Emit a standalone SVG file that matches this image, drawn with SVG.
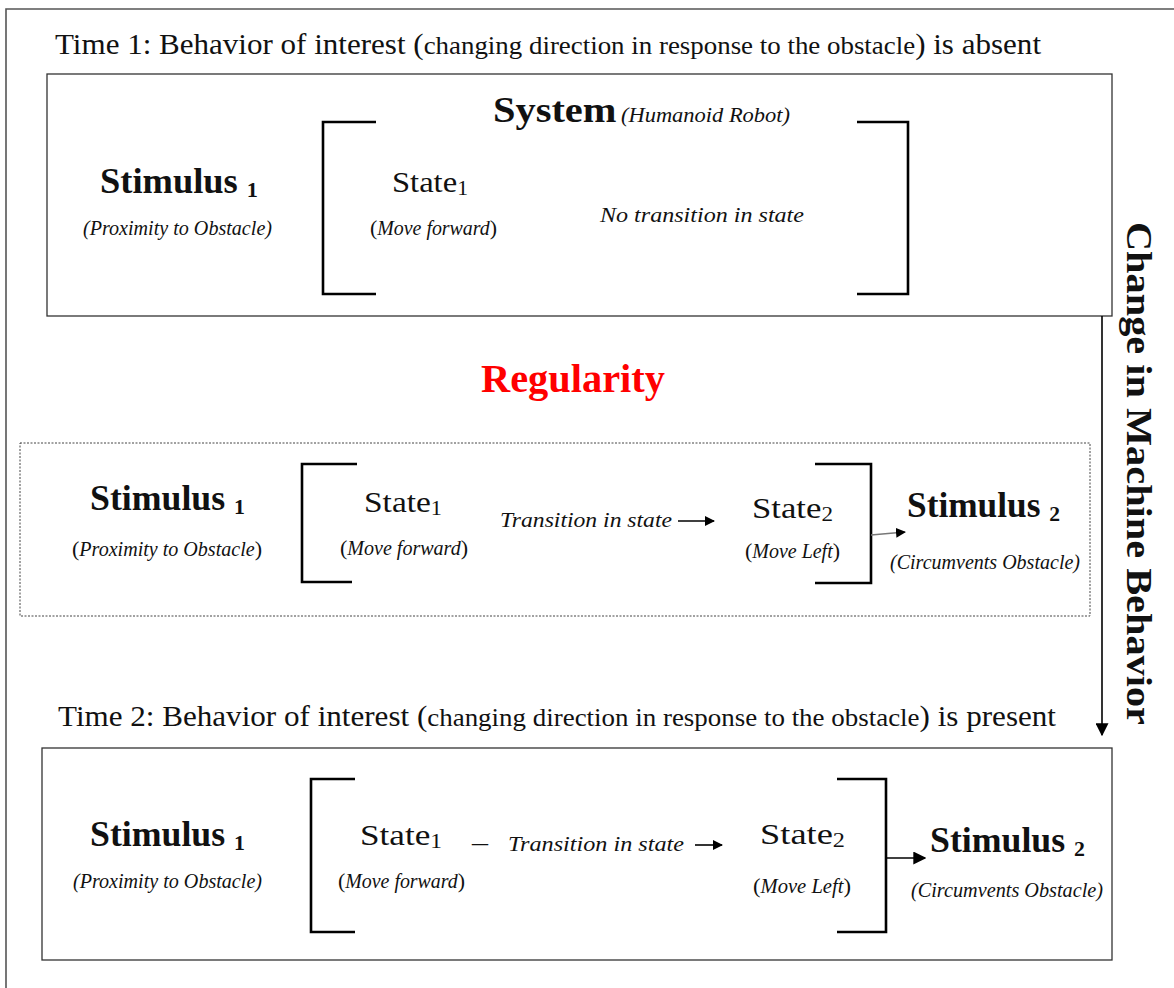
<svg xmlns="http://www.w3.org/2000/svg" width="1174" height="988" viewBox="0 0 1174 988">
  <defs>
    <marker id="head" viewBox="0 0 10 10" refX="9" refY="5" markerWidth="10" markerHeight="10" markerUnits="userSpaceOnUse" orient="auto">
      <path d="M0,0 L10,5 L0,10 z" fill="#000"/>
    </marker>
    <marker id="headBig" viewBox="0 0 10 10" refX="9" refY="5" markerWidth="13" markerHeight="13" markerUnits="userSpaceOnUse" orient="auto">
      <path d="M0,0 L10,5 L0,10 z" fill="#000"/>
    </marker>
    <style>
      text { fill: #111; }
      .title { font-size: 30px; }
      .title .small { font-size: 26px; }
      .stim { font-size: 36px; font-weight: bold; }
      .sub { font-size: 22px; }
      .ssub { font-size: 20px; }
      .state { font-size: 30px; }
      .note { font-size: 20px; font-style: italic; }
      .trans { font-size: 22px; font-style: italic; }
      .up { font-style: normal; font-size: 22px; }
      .box { fill: none; stroke: #333; stroke-width: 1.3; }
      .dotbox { fill: none; stroke: #444; stroke-width: 1; stroke-dasharray: 2 1.5; }
      .bracket { fill: none; stroke: #000; stroke-width: 2.6; }
      .conn { fill: none; stroke: #000; stroke-width: 1.6; }
    </style>
  </defs>

  <rect width="1174" height="988" fill="#fff"/>
  <!-- page frame -->
  <path d="M6,988 V9 H1174" fill="none" stroke="#555" stroke-width="1.6"/>

  <g font-family="Liberation Serif, Times New Roman, serif">
  <!-- Time 1 panel -->
  <g id="time1">
    <text class="title" x="55" y="54" textLength="986" lengthAdjust="spacingAndGlyphs">Time 1: Behavior of interest (<tspan class="small">changing direction in response to the obstacle</tspan>) is absent</text>
    <rect class="box" x="47" y="74" width="1065" height="242"/>
    <text x="493" y="122" textLength="297" lengthAdjust="spacingAndGlyphs"><tspan style="font-size:36px;font-weight:bold">System</tspan> <tspan class="note">(Humanoid Robot)</tspan></text>
    <g id="t1-stimulus1">
      <text class="stim" x="100" y="193" textLength="158" lengthAdjust="spacingAndGlyphs">Stimulus <tspan class="sub" dy="4">1</tspan></text>
      <text class="note" x="83" y="235" textLength="189" lengthAdjust="spacingAndGlyphs">(Proximity to Obstacle)</text>
    </g>
    <g id="t1-system">
      <path class="bracket" d="M376,122 H323 V294 H376"/>
      <path class="bracket" d="M857,122 H908 V294 H857"/>
      <text class="state" x="392" y="192" textLength="76" lengthAdjust="spacingAndGlyphs">State<tspan class="ssub" dy="3">1</tspan></text>
      <text class="note" x="370" y="235" textLength="127" lengthAdjust="spacingAndGlyphs"><tspan class="up">(</tspan>Move forward<tspan class="up">)</tspan></text>
      <text class="trans" x="600" y="222" textLength="204" lengthAdjust="spacingAndGlyphs" style="font-size:21px">No transition in state</text>
    </g>
  </g>

  <!-- Regularity panel -->
  <g id="regularity">
    <text x="573" y="392" text-anchor="middle" style="font-size:40px;font-weight:bold;fill:#f00" textLength="184" lengthAdjust="spacingAndGlyphs">Regularity</text>
    <rect class="dotbox" x="20" y="443" width="1070" height="173"/>
    <g id="r-stimulus1">
      <text class="stim" x="90" y="510" textLength="155" lengthAdjust="spacingAndGlyphs">Stimulus <tspan class="sub" dy="4">1</tspan></text>
      <text class="note" x="72" y="556" textLength="190" lengthAdjust="spacingAndGlyphs"><tspan class="up">(</tspan>Proximity to Obstacle<tspan class="up">)</tspan></text>
    </g>
    <g id="r-system">
      <path class="bracket" d="M357,464 H302 V582 H352"/>
      <path class="bracket" d="M815,464 H871 V583 H815"/>
      <text class="state" x="364" y="512" textLength="78" lengthAdjust="spacingAndGlyphs">State<tspan class="ssub" dy="3">1</tspan></text>
      <text class="note" x="340" y="555" textLength="128" lengthAdjust="spacingAndGlyphs"><tspan class="up">(</tspan>Move forward<tspan class="up">)</tspan></text>
      <text class="trans" x="500" y="527" textLength="172" lengthAdjust="spacingAndGlyphs">Transition in state</text>
      <text class="state" x="752" y="518" textLength="81" lengthAdjust="spacingAndGlyphs">State<tspan class="ssub" dy="3">2</tspan></text>
      <text class="note" x="745" y="558" textLength="95" lengthAdjust="spacingAndGlyphs"><tspan class="up">(</tspan>Move Left<tspan class="up">)</tspan></text>
    </g>
    <g id="r-stimulus2">
      <text class="stim" x="907" y="517" textLength="153" lengthAdjust="spacingAndGlyphs">Stimulus <tspan class="sub" dy="4">2</tspan></text>
      <text class="note" x="890" y="569" textLength="190" lengthAdjust="spacingAndGlyphs">(Circumvents  Obstacle)</text>
    </g>
  </g>

  <!-- Time 2 panel -->
  <g id="time2">
    <text class="title" x="58" y="726" textLength="998" lengthAdjust="spacingAndGlyphs">Time 2: Behavior of interest (<tspan class="small">changing direction in response to the obstacle</tspan>) is present</text>
    <rect class="box" x="42" y="748" width="1070" height="212"/>
    <g id="t2-stimulus1">
      <text class="stim" x="90" y="846" textLength="155" lengthAdjust="spacingAndGlyphs">Stimulus <tspan class="sub" dy="4">1</tspan></text>
      <text class="note" x="73" y="888" textLength="189" lengthAdjust="spacingAndGlyphs">(Proximity to Obstacle)</text>
    </g>
    <g id="t2-system">
      <path class="bracket" d="M355,779 H311 V932 H355"/>
      <path class="bracket" d="M837,779 H886 V932 H837"/>
      <text class="state" x="360" y="845" textLength="82" lengthAdjust="spacingAndGlyphs">State<tspan class="ssub" dy="3">1</tspan></text>
      <text class="note" x="338" y="888" textLength="127" lengthAdjust="spacingAndGlyphs"><tspan class="up">(</tspan>Move forward<tspan class="up">)</tspan></text>
      <text x="472" y="850" style="font-size:24px" textLength="16" lengthAdjust="spacingAndGlyphs">–</text>
      <text class="trans" x="508" y="851" textLength="176" lengthAdjust="spacingAndGlyphs">Transition in state</text>
      <text class="state" x="760" y="844" textLength="85" lengthAdjust="spacingAndGlyphs">State<tspan class="ssub" dy="3">2</tspan></text>
      <text class="note" x="753" y="893" textLength="98" lengthAdjust="spacingAndGlyphs"><tspan class="up">(</tspan>Move Left<tspan class="up">)</tspan></text>
    </g>
    <g id="t2-stimulus2">
      <text class="stim" x="930" y="852" textLength="155" lengthAdjust="spacingAndGlyphs">Stimulus <tspan class="sub" dy="4">2</tspan></text>
      <text class="note" x="911" y="897" textLength="192" lengthAdjust="spacingAndGlyphs">(Circumvents Obstacle)</text>
    </g>
  </g>

  <!-- side label -->
  <g id="change-label">
    <text transform="translate(1127,222) rotate(90)" x="0" y="0" style="font-size:36px;font-weight:bold" textLength="503" lengthAdjust="spacingAndGlyphs">Change in Machine Behavior</text>
  </g>
  </g>

  <!-- connectors -->
  <g id="connectors">
    <line class="conn" x1="678" y1="521" x2="714" y2="521" marker-end="url(#head)"/>
    <line x1="871" y1="535" x2="905" y2="532" stroke="#777" stroke-width="1.6" marker-end="url(#head)"/>
    <line class="conn" x1="695" y1="845" x2="722" y2="845" marker-end="url(#head)"/>
    <line class="conn" x1="886" y1="858" x2="925" y2="858" marker-end="url(#headBig)"/>
    <line class="conn" x1="1102" y1="316" x2="1102" y2="735" marker-end="url(#headBig)"/>
  </g>
</svg>
